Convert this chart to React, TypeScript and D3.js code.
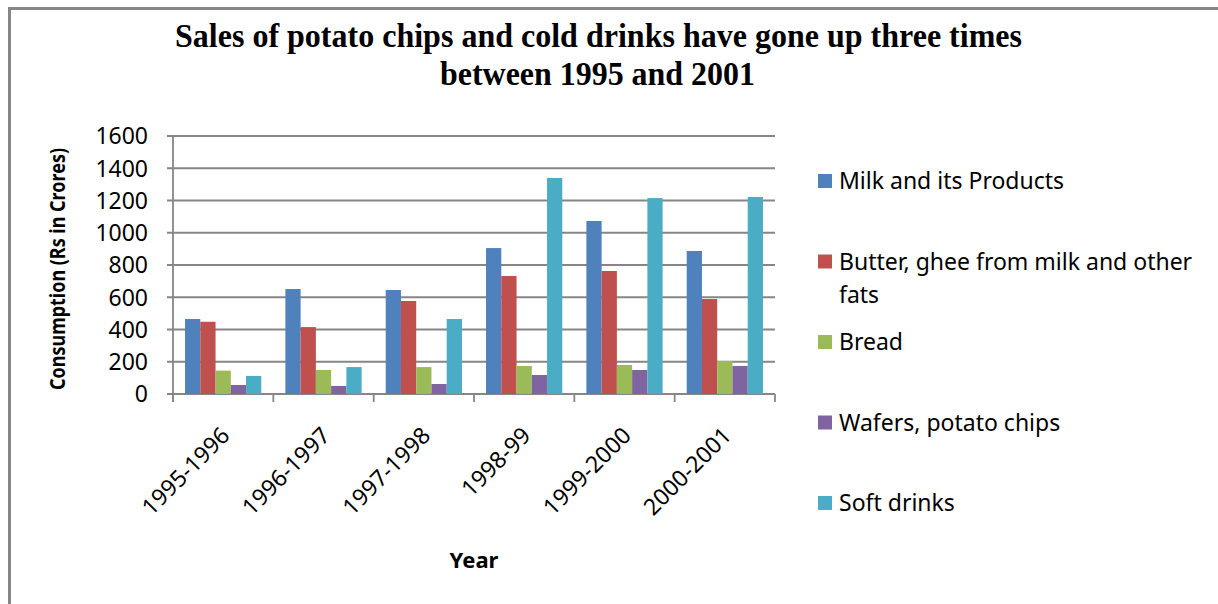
import React from "react";
import * as d3 from "d3";

const categories = ["1995-1996", "1996-1997", "1997-1998", "1998-99", "1999-2000", "2000-2001"];
const seriesNames = [
  "Milk and its Products",
  "Butter, ghee from milk and other fats",
  "Bread",
  "Wafers, potato chips",
  "Soft drinks",
];
const milk = [465, 651, 645, 905, 1073, 887];
const butter = [448, 415, 577, 732, 763, 589];
const bread = [145, 149, 167, 174, 180, 205];
const wafers = [56, 50, 62, 118, 149, 174];
const softDrinks = [112, 167, 465, 1340, 1215, 1222];
const yTicks = [0, 200, 400, 600, 800, 1000, 1200, 1400, 1600];
const colors = ["#4F81BD", "#C0504D", "#9BBB59", "#8064A2", "#4BACC6"];
const titleLines = [
  "Sales of potato chips and cold drinks have gone up three times",
  "between 1995 and 2001",
];

const seriesValues = [milk, butter, bread, wafers, softDrinks];

const W = 1218;
const H = 604;
const plot = { left: 173, right: 775, top: 136, bottom: 394 };
const SANS = "'Noto Sans', 'Open Sans', sans-serif";
const GRID = "#868686";

function wrapText(text: string, maxWidth: number, font: string): string[] {
  const canvas = document.createElement("canvas");
  const ctx = canvas.getContext("2d");
  if (!ctx) return [text];
  ctx.font = font;
  const words = text.split(" ");
  const lines: string[] = [];
  let cur = "";
  for (const w of words) {
    const test = cur ? cur + " " + w : w;
    if (ctx.measureText(test).width > maxWidth && cur) {
      lines.push(cur);
      cur = w;
    } else cur = test;
  }
  if (cur) lines.push(cur);
  return lines;
}

export default function App() {
  const x = d3
    .scaleBand<string>()
    .domain(categories)
    .range([plot.left, plot.right])
    .paddingInner(0.24)
    .paddingOuter(0.12);
  const inner = d3
    .scaleBand<string>()
    .domain(seriesNames)
    .range([0, x.bandwidth()]);
  const y = d3.scaleLinear().domain([0, 1600]).range([plot.bottom, plot.top]);
  const step = x.step();
  const boundaries = d3.range(categories.length + 1).map((i) => plot.left + i * step);

  const legendFontSize = 23;
  const legendX = 818;
  const legendY0 = 181;
  const legendStep = 80.5;

  return (
    <svg
      width={W}
      height={H}
      style={{ position: "absolute", left: 0, top: 0, background: "#fff" }}
    >
      <rect x={0} y={0} width={W} height={H} fill="#fff" />
      <rect x={9.5} y={8.5} width={W + 20} height={H + 20} fill="none" stroke={GRID} strokeWidth={3} />

      {/* Title */}
      <text
        x={175}
        y={47}
        fontFamily="'Liberation Serif', 'Times New Roman', serif"
        fontWeight="bold"
        fontSize={33}
        textLength={847}
        lengthAdjust="spacingAndGlyphs"
      >
        {titleLines[0]}
      </text>
      <text
        x={440}
        y={85}
        fontFamily="'Liberation Serif', 'Times New Roman', serif"
        fontWeight="bold"
        fontSize={33}
        textLength={315}
        lengthAdjust="spacingAndGlyphs"
      >
        {titleLines[1]}
      </text>

      {/* Gridlines */}
      {yTicks.map((t) => (
        <line
          key={"g" + t}
          x1={plot.left - 6}
          x2={plot.right}
          y1={y(t)}
          y2={y(t)}
          stroke={GRID}
          strokeWidth={1.8}
        />
      ))}
      {/* Y axis */}
      <line x1={plot.left} x2={plot.left} y1={plot.top} y2={plot.bottom + 8} stroke={GRID} strokeWidth={1.8} />
      {/* X ticks */}
      {boundaries.map((bx, i) => (
        <line key={"xt" + i} x1={bx} x2={bx} y1={plot.bottom} y2={plot.bottom + 8} stroke={GRID} strokeWidth={1.8} />
      ))}

      {/* Y tick labels */}
      {yTicks.map((t) => (
        <text
          key={"yl" + t}
          x={148}
          y={y(t)}
          dy="0.36em"
          textAnchor="end"
          fontFamily={SANS}
          fontSize={23}
          fill="#000"
        >
          {t}
        </text>
      ))}

      {/* Bars */}
      {categories.map((c, ci) => (
        <g key={c} transform={`translate(${x(c)},0)`}>
          {seriesNames.map((s, si) => {
            const v = seriesValues[si][ci];
            return (
              <rect
                key={s}
                x={inner(s)}
                y={y(v)}
                width={inner.bandwidth()}
                height={y(0) - y(v)}
                fill={colors[si]}
              />
            );
          })}
        </g>
      ))}

      {/* X tick labels */}
      {categories.map((c) => {
        const cx = (x(c) as number) + x.bandwidth() / 2 + 8;
        const cy = 437;
        return (
          <text
            key={"xl" + c}
            x={cx}
            y={cy}
            transform={`rotate(-45 ${cx} ${cy})`}
            textAnchor="end"
            fontFamily={SANS}
            fontSize={23}
            fill="#000"
          >
            {c}
          </text>
        );
      })}

      {/* Axis titles */}
      <text
        x={(plot.left + plot.right) / 2}
        y={568}
        textAnchor="middle"
        fontFamily={SANS}
        fontWeight="bold"
        fontSize={22}
      >
        Year
      </text>
      <text
        transform={`translate(65, 269) rotate(-90)`}
        textAnchor="middle"
        fontFamily={SANS}
        fontWeight="bold"
        fontSize={22}
        textLength={242}
        lengthAdjust="spacingAndGlyphs"
      >
        Consumption (Rs in Crores)
      </text>

      {/* Legend */}
      {seriesNames.map((s, i) => {
        const cy = legendY0 + i * legendStep;
        const lines = wrapText(s, 360, `${legendFontSize}px 'Noto Sans'`);
        return (
          <g key={"lg" + s}>
            <rect x={legendX} y={cy - 7} width={14} height={14} fill={colors[i]} />
            <text x={839} y={cy + 8} fontFamily={SANS} fontSize={legendFontSize} fill="#000">
              {lines.map((ln, li) => (
                <tspan key={li} x={839} dy={li === 0 ? 0 : 33}>
                  {ln}
                </tspan>
              ))}
            </text>
          </g>
        );
      })}
    </svg>
  );
}
